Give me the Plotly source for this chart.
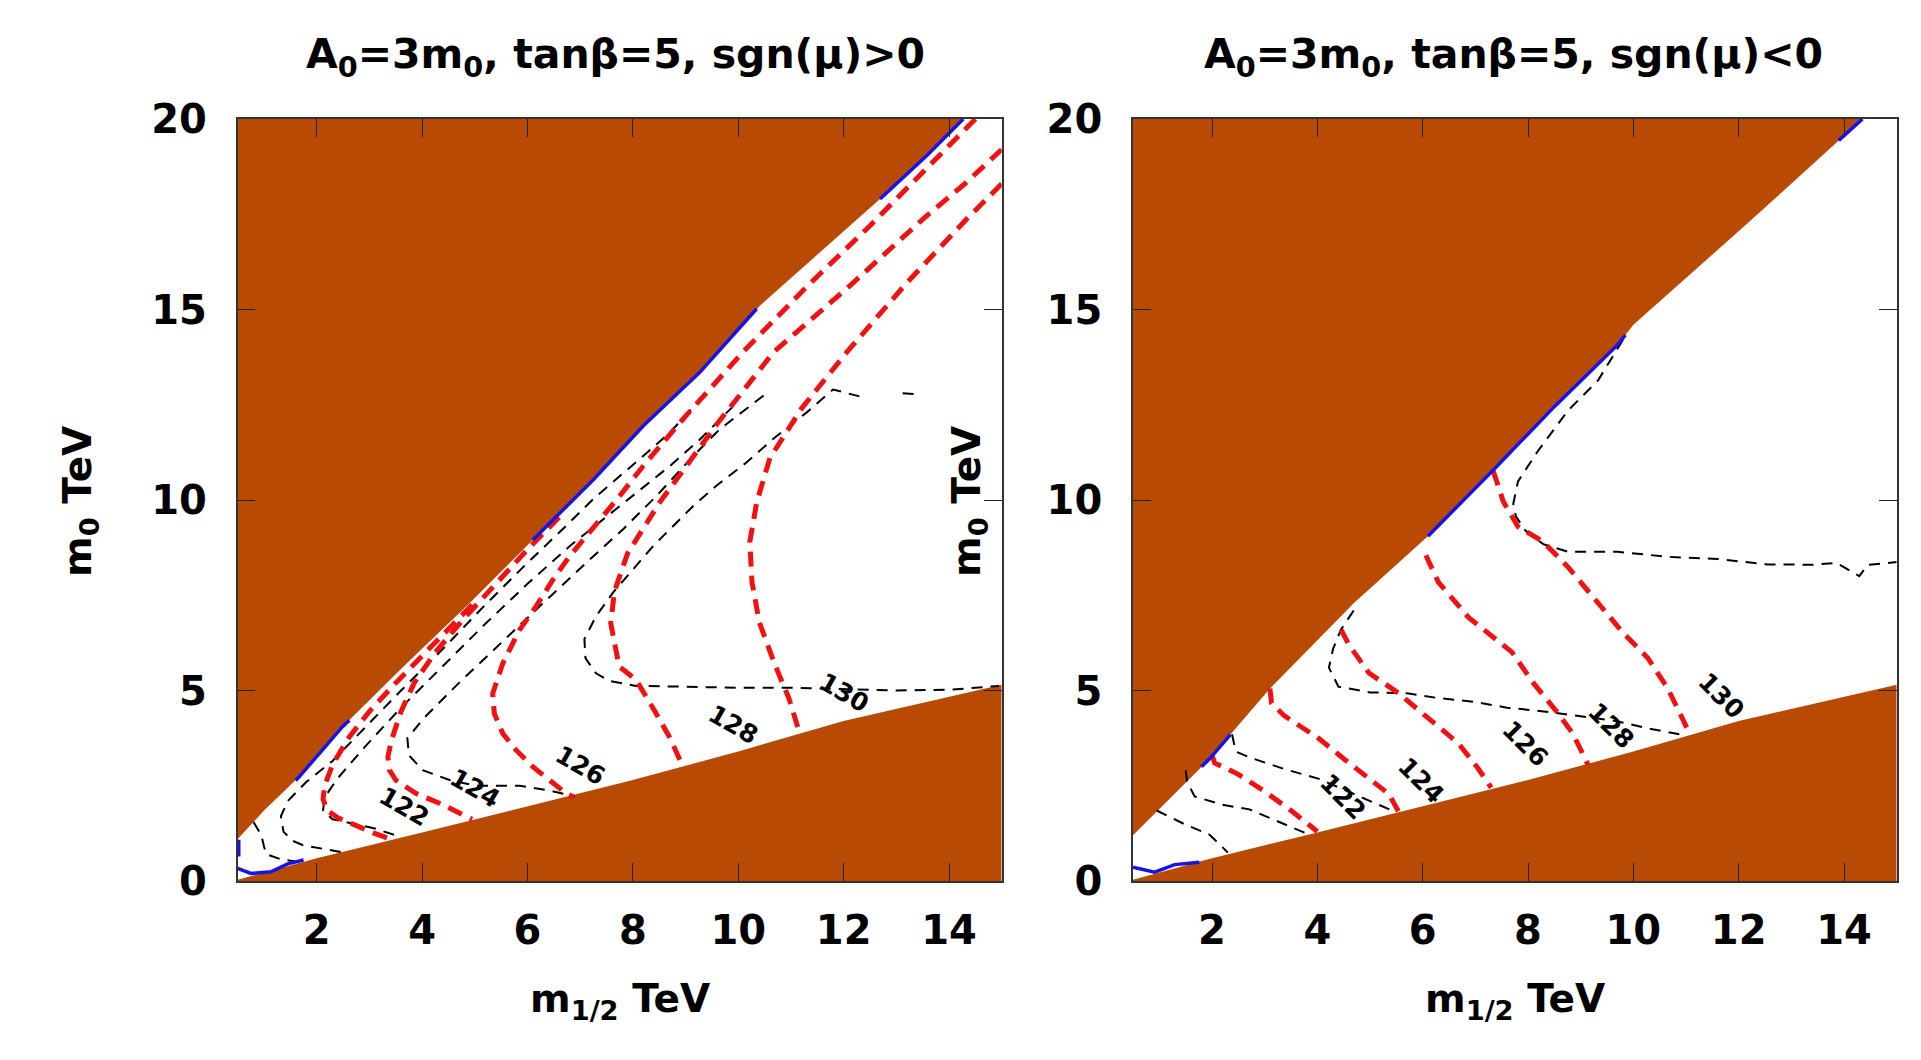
import plotly.graph_objects as go

# ---------------- data (TeV) ----------------
TITLE_L = "A<sub>0</sub>=3m<sub>0</sub>, tanβ=5, sgn(μ)&gt;0"
TITLE_R = "A<sub>0</sub>=3m<sub>0</sub>, tanβ=5, sgn(μ)&lt;0"
X_TITLE = "m<sub>1/2</sub> TeV"
Y_TITLE = "m<sub>0</sub> TeV"
X_TICKS = [2, 4, 6, 8, 10, 12, 14]
Y_TICKS = [0, 5, 10, 15, 20]
X_RANGE = [0.5, 15]
Y_RANGE = [0, 20]

# excluded-region boundaries
LOWER_X = [0.5, 2.0, 4.0, 6.0, 8.0, 10.0, 12.0, 15.0]
LOWER_Y = [0.03, 0.6, 1.27, 1.95, 2.65, 3.4, 4.2, 5.15]
L_UPPER_X = [0.5, 1.0, 1.67, 2.49, 3.7, 4.9, 6.1, 7.24, 8.2, 9.27, 10.41, 11.42, 12.69, 13.58, 14.27]
L_UPPER_Y = [1.1, 1.85, 2.74, 4.05, 5.7, 7.29, 8.95, 10.52, 11.95, 13.35, 15.1, 16.33, 17.9, 19.04, 20.0]
R_UPPER_X = [0.5, 1.95, 3.1, 4.7, 6.1, 7.35, 8.5, 9.7, 10.0, 12.2, 14.35]
R_UPPER_Y = [1.2, 3.2, 5.05, 7.3, 9.05, 10.8, 12.45, 14.07, 14.6, 17.3, 20.0]

# blue (solid) segments
L_BLUE1_X = [0.52, 0.52]; L_BLUE1_Y = [1.08, 0.64]
L_BLUE2_X = [0.5, 0.75, 1.13, 1.45, 1.75]; L_BLUE2_Y = [0.33, 0.2, 0.24, 0.45, 0.55]
L_BLUE3_X = [1.6, 1.67, 2.49, 2.62]; L_BLUE3_Y = [2.64, 2.74, 4.05, 4.22]
L_BLUE4_X = [6.1, 7.24, 8.2, 9.27, 10.35]; L_BLUE4_Y = [8.95, 10.52, 11.95, 13.35, 15.02]
L_BLUE5_X = [12.69, 13.58, 14.27]; L_BLUE5_Y = [17.9, 19.04, 20.0]
R_BLUE1_X = [0.5, 0.91, 1.29, 1.76]; R_BLUE1_Y = [0.36, 0.23, 0.43, 0.49]
R_BLUE2_X = [1.8, 1.95, 2.35]; R_BLUE2_Y = [3.0, 3.2, 3.84]
R_BLUE3_X = [6.1, 7.35, 8.5, 9.7, 9.85]; R_BLUE3_Y = [9.05, 10.8, 12.45, 14.07, 14.33]
R_BLUE4_X = [13.9, 14.35]; R_BLUE4_Y = [19.44, 20.0]

# red dashed contours (labelled Higgs mass, GeV)
L_R122_X = [4.95, 4.5, 4.0, 3.5, 3.0, 2.6, 2.3, 2.15, 2.12, 2.2, 2.4, 2.75, 3.1, 3.4]
L_R122_Y = [7.25, 6.62, 5.9, 5.2, 4.45, 3.75, 3.05, 2.5, 2.15, 1.85, 1.66, 1.45, 1.25, 1.1]
L_R124_X = [6.6, 6.0, 5.4, 4.8, 4.25, 3.85, 3.6, 3.42, 3.35, 3.38, 3.5, 3.88, 4.33, 4.77, 4.95]
L_R124_Y = [9.55, 8.7, 7.8, 6.9, 6.0, 5.2, 4.45, 3.7, 3.26, 2.91, 2.65, 2.3, 2.04, 1.75, 1.62]
L_R126_X = [14.5, 13.5, 12.5, 11.3, 10.1, 9.0, 8.2, 7.74, 7.43, 7.11, 6.79, 6.48, 6.16, 5.85, 5.53, 5.34, 5.37, 5.53, 5.78, 6.1, 6.41, 6.73, 6.88]
L_R126_Y = [20.0, 18.6, 17.2, 15.6, 13.9, 12.2, 10.9, 10.09, 9.56, 9.04, 8.51, 7.9, 7.2, 6.59, 5.71, 4.92, 4.4, 3.87, 3.44, 3.0, 2.65, 2.3, 2.2]
L_R128_X = [15.0, 14.3, 13.51, 12.1, 10.67, 9.6, 8.51, 7.9, 7.65, 7.58, 7.74, 8.06, 8.42, 8.71, 8.95]
L_R128_Y = [19.2, 18.3, 17.38, 15.6, 13.88, 12.0, 9.94, 8.6, 7.6, 6.76, 5.63, 5.28, 4.45, 3.74, 3.0]
L_R130_X = [15.0, 14.34, 13.2, 12.06, 11.2, 10.6, 10.35, 10.22, 10.26, 10.4, 10.68, 10.96, 11.15]
L_R130_Y = [18.3, 17.38, 15.7, 13.88, 12.4, 11.1, 9.94, 8.9, 7.85, 6.79, 5.73, 4.8, 3.95]

R_R122_X = [2.0, 2.05, 2.5, 3.0, 3.5, 4.0]
R_R122_Y = [3.3, 3.1, 2.8, 2.35, 1.85, 1.3]
R_R124_X = [3.1, 3.13, 3.37, 4.03, 4.5, 4.98, 5.36, 5.55]
R_R124_Y = [5.05, 4.67, 4.34, 3.74, 3.21, 2.68, 2.28, 1.8]
R_R126_X = [4.45, 4.6, 4.98, 5.54, 6.11, 6.68, 7.06, 7.3]
R_R126_Y = [6.6, 6.2, 5.46, 4.93, 4.27, 3.61, 2.94, 2.45]
R_R128_X = [6.06, 6.3, 6.87, 7.7, 8.1, 8.57, 8.85, 9.09, 9.14]
R_R128_Y = [8.55, 7.84, 6.92, 6.0, 5.2, 4.4, 3.87, 3.21, 3.05]
R_R130_X = [7.34, 7.53, 7.81, 8.29, 8.76, 9.33, 9.8, 10.27, 10.65, 10.93, 11.07]
R_R130_Y = [10.76, 9.96, 9.3, 8.9, 8.24, 7.31, 6.52, 5.86, 5.06, 4.27, 3.85]

# black dashed contours (unlabelled)
L_K0_X = [0.8, 0.95, 1.0, 1.05, 1.3, 1.65]
L_K0_Y = [1.55, 1.2, 0.9, 0.7, 0.58, 0.5]
L_K1_X = [9.34, 8.71, 8.2, 7.69, 7.25, 6.74, 6.0, 5.2, 4.4, 3.6, 2.9, 2.3, 1.8, 1.45, 1.32, 1.37, 1.55, 1.74, 2.1, 2.5]
L_K1_Y = [12.74, 11.78, 11.16, 10.55, 10.03, 9.33, 8.35, 7.25, 6.1, 5.0, 4.0, 3.15, 2.6, 2.1, 1.7, 1.29, 1.05, 0.94, 0.85, 0.75]
L_K2_X = [9.91, 9.28, 8.71, 8.07, 7.44, 6.81, 6.0, 5.2, 4.4, 3.6, 2.9, 2.4, 2.15, 2.12, 2.3, 2.7, 3.1, 3.6]
L_K2_Y = [12.47, 11.6, 10.9, 10.2, 9.5, 8.8, 7.8, 6.75, 5.65, 4.55, 3.5, 2.7, 2.2, 1.85, 1.62, 1.5, 1.38, 1.15]
L_K3_X = [10.48, 9.65, 9.15, 8.45, 7.82, 7.12, 6.3, 5.5, 4.7, 4.05, 3.72, 3.75, 4.01, 4.52, 5.02, 5.85, 6.4, 6.9]
L_K3_Y = [12.74, 11.86, 11.16, 10.11, 9.24, 8.36, 7.3, 6.25, 5.2, 4.3, 3.75, 3.3, 2.91, 2.65, 2.5, 2.5, 2.38, 2.22]
L_K4_X = [12.3, 11.8, 11.3, 10.66, 10.16, 9.59, 9.15, 8.77, 8.39, 8.01, 7.63, 7.3, 7.08, 7.1, 7.3, 7.55, 8.06, 9.0, 10.0, 11.0, 12.0, 13.0, 14.0, 14.95]
L_K4_Y = [12.72, 12.9, 12.3, 11.6, 10.99, 10.38, 9.85, 9.33, 8.8, 8.19, 7.58, 6.95, 6.35, 5.85, 5.45, 5.25, 5.12, 5.1, 5.07, 5.07, 5.03, 5.0, 5.02, 5.12]
L_K5_X = [13.12, 13.35]
L_K5_Y = [12.8, 12.78]

R_K0_X = [0.95, 1.15, 1.48, 1.95, 2.3]
R_K0_Y = [1.85, 1.72, 1.49, 1.22, 0.75]
R_K1_X = [1.5, 1.53, 1.67, 2.2, 2.71, 3.37, 3.84]
R_K1_Y = [2.9, 2.6, 2.22, 2.0, 1.88, 1.49, 1.22]
R_K2_X = [2.38, 2.4, 2.45, 2.7, 3.37, 4.03, 4.5, 5.0, 5.5]
R_K2_Y = [3.85, 3.7, 3.4, 3.25, 2.94, 2.68, 2.4, 2.1, 1.8]
R_K3_X = [4.69, 4.45, 4.3, 4.22, 4.4, 5.0, 5.7, 6.3, 7.0, 7.6, 8.3, 9.0, 9.66, 10.3, 11.0]
R_K3_Y = [7.1, 6.6, 6.1, 5.6, 5.1, 4.95, 4.93, 4.8, 4.7, 4.55, 4.45, 4.33, 4.2, 4.0, 3.82]
R_K4_X = [9.8, 9.33, 8.76, 8.19, 7.81, 7.72, 7.77, 7.95, 8.29, 8.76, 9.7, 10.65, 11.6, 12.54, 13.4, 13.86, 14.29, 14.45, 15.0]
R_K4_Y = [14.2, 13.14, 12.35, 11.29, 10.49, 9.9, 9.57, 9.2, 8.84, 8.64, 8.64, 8.51, 8.45, 8.31, 8.3, 8.35, 8.0, 8.3, 8.37]

# contour labels
LABEL_TEXT = ["122", "124", "126", "128", "130"]
L_LABEL_X = [3.65, 5.01, 7.0, 9.9, 12.0]
L_LABEL_Y = [1.95, 2.44, 3.02, 4.1, 4.95]
R_LABEL_X = [4.48, 5.97, 7.94, 9.57, 11.66]
R_LABEL_Y = [2.22, 2.64, 3.6, 4.08, 4.86]

# ---------------- styles ----------------
BROWN = "#B94A03"
RED = "#F01212"
BLUE = "#1414E6"
FONT = "DejaVu Sans"
W, H = 1921, 1060

fig = go.Figure()


def add_panel(xa, ya, upper_x, upper_y, blues, reds, blacks):
    # excluded regions
    fig.add_trace(go.Scatter(x=upper_x + [X_RANGE[0]], y=upper_y + [Y_RANGE[1]],
                             fill="toself", fillcolor=BROWN, mode="lines",
                             line=dict(width=0, color=BROWN), xaxis=xa, yaxis=ya,
                             hoverinfo="skip"))
    fig.add_trace(go.Scatter(x=LOWER_X + [X_RANGE[1], X_RANGE[0]], y=LOWER_Y + [0, 0],
                             fill="toself", fillcolor=BROWN, mode="lines",
                             line=dict(width=0, color=BROWN), xaxis=xa, yaxis=ya,
                             hoverinfo="skip"))
    for bx, by in blacks:
        fig.add_trace(go.Scatter(x=bx, y=by, mode="lines", xaxis=xa, yaxis=ya,
                                 line=dict(color="black", width=2, dash="11px,8px"),
                                 hoverinfo="skip"))
    for rx, ry in reds:
        fig.add_trace(go.Scatter(x=rx, y=ry, mode="lines", xaxis=xa, yaxis=ya,
                                 line=dict(color=RED, width=5, dash="15px,9px"),
                                 hoverinfo="skip"))
    for bx, by in blues:
        fig.add_trace(go.Scatter(x=bx, y=by, mode="lines", xaxis=xa, yaxis=ya,
                                 line=dict(color=BLUE, width=3.5), hoverinfo="skip"))


add_panel("x", "y", L_UPPER_X, L_UPPER_Y,
          [(L_BLUE1_X, L_BLUE1_Y), (L_BLUE2_X, L_BLUE2_Y), (L_BLUE3_X, L_BLUE3_Y),
           (L_BLUE4_X, L_BLUE4_Y), (L_BLUE5_X, L_BLUE5_Y)],
          [(L_R122_X, L_R122_Y), (L_R124_X, L_R124_Y), (L_R126_X, L_R126_Y),
           (L_R128_X, L_R128_Y), (L_R130_X, L_R130_Y)],
          [(L_K0_X, L_K0_Y), (L_K1_X, L_K1_Y), (L_K2_X, L_K2_Y), (L_K3_X, L_K3_Y),
           (L_K4_X, L_K4_Y), (L_K5_X, L_K5_Y)])
add_panel("x2", "y2", R_UPPER_X, R_UPPER_Y,
          [(R_BLUE1_X, R_BLUE1_Y), (R_BLUE2_X, R_BLUE2_Y), (R_BLUE3_X, R_BLUE3_Y),
           (R_BLUE4_X, R_BLUE4_Y)],
          [(R_R122_X, R_R122_Y), (R_R124_X, R_R124_Y), (R_R126_X, R_R126_Y),
           (R_R128_X, R_R128_Y), (R_R130_X, R_R130_Y)],
          [(R_K0_X, R_K0_Y), (R_K1_X, R_K1_Y), (R_K2_X, R_K2_Y), (R_K3_X, R_K3_Y),
           (R_K4_X, R_K4_Y)])

# ---------------- layout ----------------
PLOT_TOP, PLOT_BOTTOM = 119, 881
L_LEFT, L_RIGHT = 237.7, 1001.7
R_LEFT, R_RIGHT = 1133.0, 1896.7
ydom = [(H - PLOT_BOTTOM) / H, (H - PLOT_TOP) / H]

tickfont = dict(family=FONT, size=40, color="black", weight="bold")


def xaxis(dom, anchor):
    return dict(domain=dom, range=X_RANGE, tickvals=X_TICKS, ticks="inside", ticklen=18,
                tickwidth=1, tickcolor="#222", showline=True, mirror="allticks",
                linecolor="#333", linewidth=1.5, showgrid=False, zeroline=False,
                tickfont=tickfont, anchor=anchor, ticklabelstandoff=13, automargin=False)


def yaxis(anchor):
    return dict(domain=ydom, range=Y_RANGE, tickvals=Y_TICKS, ticks="inside", ticklen=18,
                tickwidth=1, tickcolor="#222", showline=True, mirror="allticks",
                linecolor="#333", linewidth=1.5, showgrid=False, zeroline=False,
                tickfont=tickfont, anchor=anchor, ticklabelstandoff=21, automargin=False)


annotations = []
title_font = dict(family=FONT, size=41, color="black", weight="bold")
axis_font = dict(family=FONT, size=39, color="black", weight="bold")
for cx, title in [(615, TITLE_L), (1513, TITLE_R)]:
    annotations.append(dict(text=title, x=cx / W, y=1 - 57 / H, xref="paper", yref="paper",
                            showarrow=False, font=title_font, xanchor="center", yanchor="middle"))
for cx in [(L_LEFT + L_RIGHT) / 2, (R_LEFT + R_RIGHT) / 2]:
    annotations.append(dict(text=X_TITLE, x=cx / W, y=1 - 1001 / H, xref="paper", yref="paper",
                            showarrow=False, font=axis_font, xanchor="center", yanchor="middle"))
for cx in [80, 969]:
    annotations.append(dict(text=Y_TITLE, x=cx / W, y=1 - 502 / H, xref="paper", yref="paper",
                            showarrow=False, textangle=-90, font=axis_font,
                            xanchor="center", yanchor="middle"))
for xs, ys, xr, yr, ang in [(L_LABEL_X, L_LABEL_Y, "x", "y", 30), (R_LABEL_X, R_LABEL_Y, "x2", "y2", 45)]:
    for t, lx, ly in zip(LABEL_TEXT, xs, ys):
        annotations.append(dict(text=t, x=lx, y=ly, xref=xr, yref=yr, showarrow=False,
                                textangle=ang,
                                font=dict(family=FONT, size=25, color="black", weight="bold"),
                                xanchor="center", yanchor="middle"))

fig.update_layout(
    template="none",
    width=W, height=H, margin=dict(l=0, r=0, t=0, b=0, autoexpand=False),
    paper_bgcolor="white", plot_bgcolor="white", showlegend=False,
    xaxis=xaxis([L_LEFT / W, L_RIGHT / W], "y"),
    yaxis=yaxis("x"),
    xaxis2=xaxis([R_LEFT / W, R_RIGHT / W], "y2"),
    yaxis2=yaxis("x2"),
    annotations=annotations,
)

fig.write_html("out.html")
